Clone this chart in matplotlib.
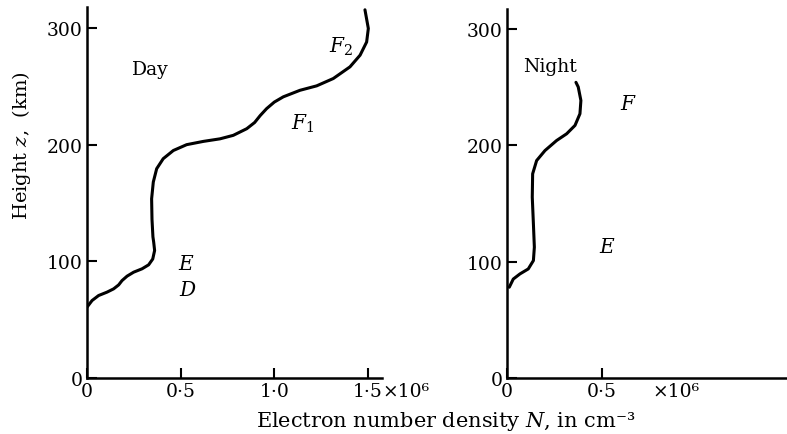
import matplotlib
matplotlib.use("Agg")
import matplotlib.pyplot as plt

plt.rcParams['font.family'] = ['DejaVu Serif']
plt.rcParams['mathtext.fontset'] = 'dejavuserif'

# Day profile: electron density (units of 1e6 cm^-3) vs height (km)
day_N = [0.0, 0.027, 0.062, 0.107, 0.142, 0.169, 0.187, 0.214, 0.249, 0.294,
         0.329, 0.351, 0.361, 0.356, 0.352, 0.347, 0.345, 0.354, 0.372, 0.407,
         0.461, 0.532, 0.621, 0.71, 0.781, 0.853, 0.895, 0.925, 0.959, 1.0,
         1.048, 1.137, 1.226, 1.315, 1.404, 1.458, 1.493, 1.502, 1.484]
day_z = [60.7, 66.4, 70.7, 73.6, 76.4, 79.8, 83.5, 87.3, 90.7, 93.6,
         97, 102, 109.3, 116.5, 121, 136, 153.6, 168, 179.4, 188,
         195, 200, 202.8, 205, 208, 213.7, 219, 225, 230.9, 236.5,
         241, 246.6, 250.4, 256.7, 266.7, 276.7, 288, 299.6, 315.6]

# Night profile
night_N = [0.012, 0.033, 0.068, 0.112, 0.139, 0.144, 0.139, 0.133, 0.135, 0.156,
           0.2, 0.261, 0.314, 0.358, 0.384, 0.389, 0.375, 0.363]
night_z = [78, 85, 89.4, 93.7, 100.9, 112.4, 132.4, 155.4, 175.4, 186.8,
           195.4, 204, 209.8, 217, 227, 238.4, 250, 254]

yticks = [0, 100, 200, 300]
day_xticks = [0, 0.5, 1.0, 1.5]
day_xticklabels = ['0', '0·5', '1·0', '1·5']
night_xticks = [0, 0.5]
night_xticklabels = ['0', '0·5']

FS = 13.5
PAD = 3
fig = plt.figure(figsize=(7.87, 4.35), dpi=100)
ax1 = fig.add_axes([87/787, 56/435, 295/787, 371/435])
ax2 = fig.add_axes([507/787, 56/435, 280/787, 369/435])

for ax in (ax1, ax2):
    for s in ('top', 'right'):
        ax.spines[s].set_visible(False)
    for s in ('left', 'bottom'):
        ax.spines[s].set_linewidth(1.8)
    ax.tick_params(direction='in', length=7, width=1.5, labelsize=FS, pad=PAD)
    ax.set_yticks(yticks)
    ax.set_yticklabels([str(t) for t in yticks])

ax1.plot(day_N, day_z, color='black', lw=2.2, solid_capstyle='round',
         solid_joinstyle='round')
ax1.set_xlim(0, 1.575)
ax1.set_ylim(0, 318)
ax1.set_xticks(day_xticks)
ax1.set_xticklabels(day_xticklabels)
ax1.annotate('×10⁶', xy=(1.5, 0), xycoords='data', xytext=(10.5, -PAD),
             textcoords='offset points', ha='left', va='top', fontsize=FS)

ax2.plot(night_N, night_z, color='black', lw=2.2, solid_capstyle='round',
         solid_joinstyle='round')
ax2.set_xlim(0, 1.474)
ax2.set_ylim(0, 317)
ax2.set_xticks(night_xticks)
ax2.set_xticklabels(night_xticklabels)
ax2.annotate('×10⁶', xy=(0.768, 0), xycoords='data', xytext=(0, -PAD),
             textcoords='offset points', ha='left', va='top', fontsize=FS)

# Region labels
ax1.text(0.336, 265, 'Day', fontsize=FS, ha='center', va='center')
ax1.text(1.356, 285, r'$F_2$', fontsize=FS + 1, ha='center', va='center')
ax1.text(1.15, 219, r'$F_1$', fontsize=FS + 1, ha='center', va='center')
ax1.text(0.53, 98, r'$E$', fontsize=FS + 1, ha='center', va='center')
ax1.text(0.54, 75.5, r'$D$', fontsize=FS + 1, ha='center', va='center')

ax2.text(0.224, 268, 'Night', fontsize=FS, ha='center', va='center')
ax2.text(0.637, 235.6, r'$F$', fontsize=FS + 1, ha='center', va='center')
ax2.text(0.526, 112.6, r'$E$', fontsize=FS + 1, ha='center', va='center')

fig.text(446/787, 1 - 422/435, r'Electron number density $N$, in cm⁻³',
         fontsize=15, ha='center', va='center')
fig.text(22/787, 1 - 146/435, r'Height $z$,  (km)', fontsize=FS + 0.5,
         ha='center', va='center', rotation=90)

fig.savefig('out.png', dpi=100)
